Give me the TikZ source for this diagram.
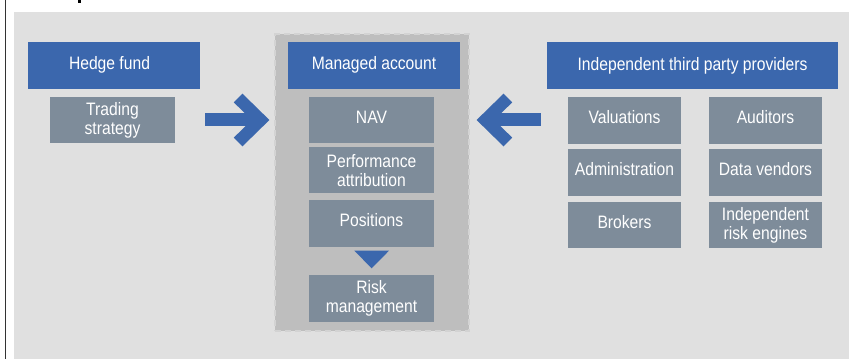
\documentclass[tikz,border=0pt]{standalone}
\usepackage{fontspec}
\setmainfont{Liberation Sans}[FakeStretch=0.87]
\definecolor{panelbg}{HTML}{E0E0E0}
\definecolor{headblue}{HTML}{3B67AD}
\definecolor{itemgray}{HTML}{7E8C9A}
\definecolor{groupgray}{HTML}{BEBEBE}
\definecolor{groupedge}{HTML}{D3D3D3}
\tikzset{
  boxtext/.style={rectangle, text=white, inner sep=0pt, align=center,
    font=\fontsize{18}{19}\selectfont},
  header/.style={boxtext, fill=headblue, minimum width=#1,
    minimum height=46.5pt, text height=13pt, text depth=3.7pt},
  item/.style={boxtext, fill=itemgray, minimum width=#1,
    minimum height=46.3pt, text height=12pt, text depth=6pt},
  itemtwo/.style={boxtext, fill=itemgray, minimum width=#1,
    minimum height=46.3pt},
  group/.style={rectangle, fill=groupgray, draw=groupedge, line width=1.8pt,
    dash pattern=on 6pt off 4pt, inner sep=0pt},
  blockarrow/.style={fill=headblue},
  chevron/.style={draw=headblue, line width=12.3pt, miter limit=10}
}
\begin{document}
\begin{tikzpicture}[x=1pt, y=-1pt]
  \useasboundingbox (0,0) rectangle (849,359);
  % page background, side rule and panel
  \fill[white] (0,0) rectangle (849,359);
  \fill[black!80] (4.7,0) rectangle (6.2,359);
  \fill[black] (77.8,0) rectangle (80.6,3);
  \fill[panelbg] (14,12.3) rectangle (849,359);

  % managed account container
  \node[group, minimum width=194pt, minimum height=296.5pt] (ma) at (372,182.5) {};

  % hedge fund column
  \node[header=172pt] (hf) at (114,65.3) {Hedge fund\hspace*{9pt}};
  \node[itemtwo=125pt] (ts) at (112.5,120) {Trading\\strategy};

  % managed account column
  \node[header=172pt] (mah) at (374,65.3) {Managed account};
  \node[item=125pt] (nav) at (371.5,120.3) {NAV};
  \node[itemtwo=125pt] (perf) at (371.5,170.2) {Performance\\attribution};
  \node[item=125pt] (pos) at (371.5,223.5) {Positions};
  \node[itemtwo=125pt] (risk) at (371.5,298.5) {Risk\\management};
  \fill[headblue] (354.3,250.7) -- (389,250.7) -- (371.7,268.3) -- cycle;

  % independent providers column
  \node[header=291pt] (itp) at (692.5,65.5) {Independent third party providers};
  \node[item=113pt] (val) at (624.5,120.5) {Valuations};
  \node[item=113pt] (aud) at (765.5,120.5) {Auditors};
  \node[item=113pt] (adm) at (624.5,172.5) {Administration};
  \node[item=113pt] (dv) at (765.5,172.5) {Data vendors};
  \node[item=113pt] (brk) at (624.5,225.3) {Brokers};
  \node[itemtwo=113pt] (ire) at (765.5,225.3) {Independent\\risk engines};

  % block arrows pointing into the managed account
  \coordinate (ltip) at ([xshift=-13.5pt]ma.west |- ts.center);
  \coordinate (rtip) at ([xshift=15.5pt]ma.east |- ts.center);
  \fill[blockarrow] (205,112.5) rectangle (258,125.5);
  \draw[chevron] ([shift={(-22.5,-22)}]ltip) -- (ltip) -- ([shift={(-22.5,22)}]ltip);
  \fill[blockarrow] (487,112.5) rectangle (541,125.5);
  \draw[chevron] ([shift={(22.5,-22)}]rtip) -- (rtip) -- ([shift={(22.5,22)}]rtip);
\end{tikzpicture}
\end{document}
